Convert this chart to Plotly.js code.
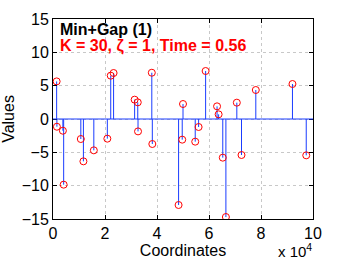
<!DOCTYPE html>
<html><head><meta charset="utf-8">
<script src="https://cdn.plot.ly/plotly-3.0.1.min.js"></script>
<style>html,body{margin:0;padding:0;background:#fff}#chart{width:346px;height:260px}</style>
</head><body><div id="chart"></div>
<script>
// Data (x in coordinates, y in values)
const coords = [1400, 1500, 3800, 4100, 10700, 11700, 15700, 20900, 22200, 23300,
  31400, 32600, 32700, 38000, 38200, 48300, 49700, 50000, 54700, 56000,
  58700, 63100, 63700, 65300, 66500, 70700, 72500, 78000, 92100, 97400];
const values = [5.64, -1.16, -1.76, -9.85, -3.0, -6.35, -4.7, -2.95, 6.5, 6.9,
  2.9, 2.5, -1.86, 6.94, -3.75, -12.9, -3.1, 2.25, -3.4, -1.2,
  7.2, 1.9, 0.7, -5.8, -14.7, 2.45, -5.4, 4.35, 5.25, -5.45];
const xTickVals = [0, 20000, 40000, 60000, 80000, 100000];
const xTickText = ['0', '2', '4', '6', '8', '10'];
const yTickVals = [-15, -10, -5, 0, 5, 10, 15];
const yTickText = ['\u221215', '\u221210', '\u22125', '0', '5', '10', '15'];
const titleLine1 = 'Min+Gap (1)';
const titleLine2 = 'K = 30, \u03b6 = 1, Time = 0.56';

const sx = [], sy = [];
coords.forEach((c, i) => { sx.push(c, c, null); sy.push(0, values[i], null); });

const fam = 'Liberation Sans, Arial, sans-serif';
const font = {family: fam, size: 16, color: '#000'};
const traces = [
  {x: sx, y: sy, mode: 'lines', line: {color: '#1a3cff', width: 1}, hoverinfo: 'skip', showlegend: false},
  {x: coords, y: values, mode: 'markers', marker: {symbol: 'circle-open', size: 7, color: '#ff0000', line: {width: 1, color: '#ff0000'}}, showlegend: false}
];
const axisCommon = {showline: true, mirror: 'allticks', linecolor: '#000', linewidth: 1,
  ticks: 'inside', ticklen: 4, tickcolor: '#000', showgrid: true, gridcolor: '#c8c8c8',
  griddash: 'dot', gridwidth: 1, zeroline: false, tickfont: font};
const layout = {
  width: 346, height: 260,
  margin: {l: 53, r: 33, t: 19, b: 41},
  paper_bgcolor: '#fff', plot_bgcolor: '#fff',
  font: font,
  xaxis: Object.assign({}, axisCommon, {range: [0, 100000], tickvals: xTickVals, ticktext: xTickText,
    title: {text: 'Coordinates', font: font, standoff: 0}}),
  yaxis: Object.assign({}, axisCommon, {range: [-15, 15], tickvals: yTickVals, ticktext: yTickText,
    title: {text: 'Values', font: font, standoff: 4}}),
  shapes: [{type: 'line', xref: 'paper', yref: 'y', x0: 0, x1: 1, y0: 0, y1: 0, line: {color: '#1a3cff', width: 1}}],
  annotations: [
    {xref: 'paper', yref: 'paper', x: 0.018, y: 0.95, xanchor: 'left', yanchor: 'middle', showarrow: false,
      text: '<b>' + titleLine1 + '</b>', font: {family: fam, size: 16, color: '#000'}},
    {xref: 'paper', yref: 'paper', x: 0.018, y: 0.865, xanchor: 'left', yanchor: 'middle', showarrow: false,
      text: '<b>' + titleLine2 + '</b>', font: {family: fam, size: 16, color: '#ff0000'}},
    {xref: 'paper', yref: 'paper', x: 1.004, y: -0.155, xanchor: 'right', yanchor: 'middle', showarrow: false,
      text: 'x 10<sup>4</sup>', font: {family: fam, size: 15, color: '#000'}}
  ]
};
Plotly.newPlot('chart', traces, layout, {displayModeBar: false, staticPlot: true});
</script></body></html>
